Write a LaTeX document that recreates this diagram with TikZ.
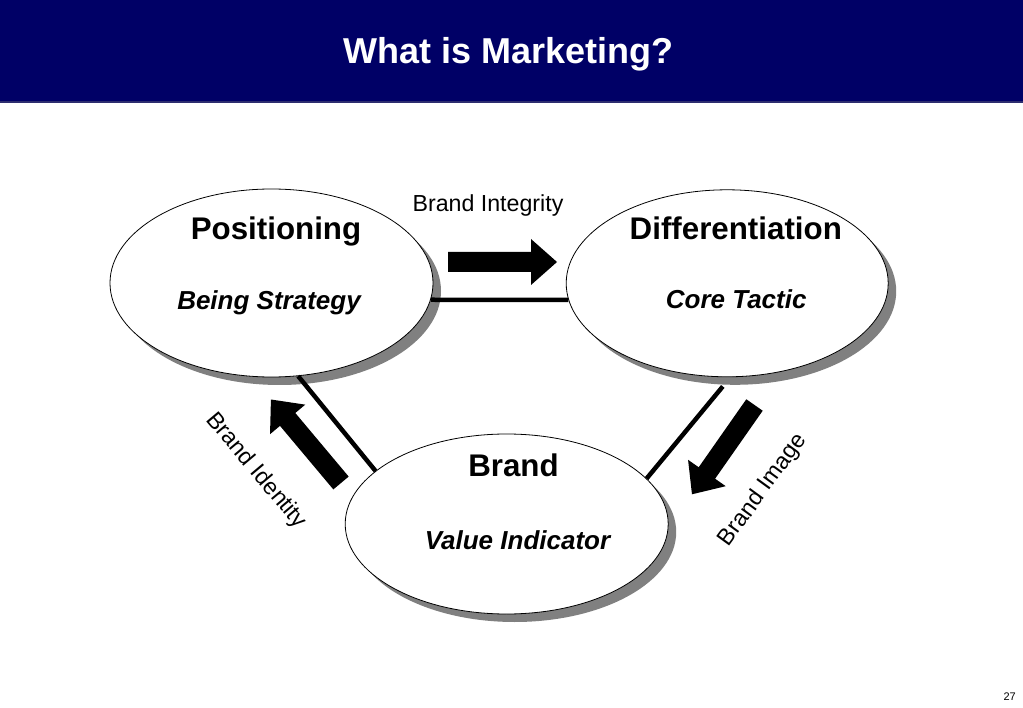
\documentclass[tikz,border=0pt]{standalone}
\usepackage{fontspec}
\setmainfont{Liberation Sans}
\usetikzlibrary{calc,shapes.geometric,shadows,positioning}
\definecolor{TitleNavy}{HTML}{000066}
\definecolor{ShadowGray}{HTML}{808080}
\tikzset{
    bubble/.style = {draw, ellipse, fill=white, line width=0.8pt, inner sep=0pt,
        general shadow={fill=ShadowGray, shadow xshift=8pt, shadow yshift=-8pt}},
    headline/.style = {font=\fontsize{31.3}{36}\selectfont\bfseries, anchor=base, inner sep=0pt},
    tagline/.style = {font=\fontsize{26}{30}\selectfont\bfseries\itshape, anchor=base, inner sep=0pt},
    flowlabel/.style = {font=\fontsize{23.2}{27}\selectfont, inner sep=0pt},
    link/.style = {draw, line width=4.5pt}
}
\def\blockarrow{%
    -- +(0,-10) -- +(83,-10) -- +(83,-23) -- +(109,0) -- +(83,23) -- +(83,10) -- +(0,10) -- cycle
}
\begin{document}
\begin{tikzpicture}[x=1pt, y=-1pt]
        \useasboundingbox (0,0) rectangle (1023,708);
        \fill[white] (0,0) rectangle (1023,708);
        % title bar
        \fill[TitleNavy] (0,0) rectangle (1023,102);
        \draw[line width=2pt, TitleNavy!65!gray] (0,102.5) -- (1023,102.5);
        \node [font=\fontsize{36}{40}\selectfont\bfseries, text=white, anchor=base, inner sep=0pt] (title) at (508.5,63.3) {What is Marketing?};
        % the three ellipses
        \node [bubble, minimum width=323pt, minimum height=188pt] (pos) at (271.5,283) {};
        \node [bubble, minimum width=322pt, minimum height=187pt] (diff) at (727.2,283.3) {};
        \node [bubble, minimum width=323pt, minimum height=180pt] (brand) at (506.7,524) {};
        \node [headline] (postitle) at ($(pos)+(4.5,-43)$) {Positioning};
        \node [tagline] (posnote) at ($(pos)+(-2.5,27)$) {Being Strategy};
        \node [headline] (difftitle) at ($(diff)+(8.6,-44)$) {Differentiation};
        \node [tagline] (diffnote) at ($(diff)+(9,25.2)$) {Core Tactic};
        \node [headline] (brandtitle) at ($(brand)+(6.8,-48)$) {Brand};
        \node [tagline] (brandnote) at ($(brand)+(10.8,25.3)$) {Value Indicator};
        % links
        \draw [link] (pos.-6) -- (diff.186);
        \draw [link] (pos.-74) -- (brand.158);
        \draw [link, shorten <=12pt] (diff.-88) -- (brand.18);
        % block arrows
        \fill [shift={(448,262)}] (0,0) \blockarrow;
        \fill [shift={(341,483)}, rotate=130] (0,0) \blockarrow;
        \fill [shift={(754.5,405)}, rotate=-125] (0,0) \blockarrow;
        \node [flowlabel, anchor=base] (integrity) at (488,211.7) {Brand Integrity};
        \node [flowlabel, rotate=-50] (identity) at (256,471) {Brand Identity};
        \node [flowlabel, rotate=54] (image) at (763,490) {Brand Image};
        \node [font=\fontsize{11}{13}\selectfont, anchor=base east, inner sep=0pt] (pageno) at (1016,700.7) {27};
\end{tikzpicture}
\end{document}
